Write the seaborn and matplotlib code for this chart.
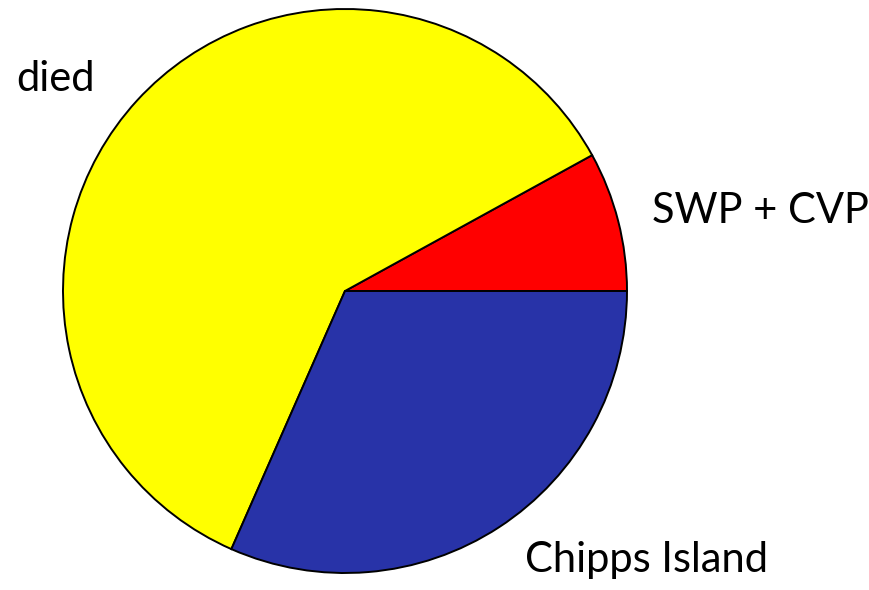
import matplotlib
matplotlib.use("Agg")
import matplotlib.pyplot as plt
import seaborn as sns

categories = ["SWP + CVP", "died", "Chipps Island"]
values = [8.0, 60.4, 31.6]
colors = ["#FF0000", "#FFFF00", "#2833A8"]

sns.set_theme(style="white")
plt.rcParams['font.family'] = ['Lato', 'DejaVu Sans']

W, H = 869, 590
fig = plt.figure(figsize=(W / 100, H / 100), dpi=100)
ax = fig.add_axes([0, 0, 1, 1])
ax.set_xlim(0, W)
ax.set_ylim(0, H)
ax.axis("off")

ax.pie(values, colors=colors, startangle=0, counterclock=True,
       center=(345, H - 291), radius=282, frame=True,
       wedgeprops=dict(edgecolor="black", linewidth=1.4))
ax.set_xlim(0, W)
ax.set_ylim(0, H)
ax.set_aspect("equal")
ax.axis("off")

label_pos = {"died": (16, H - 91), "SWP + CVP": (652, H - 223), "Chipps Island": (525, H - 572)}
for name in categories:
    x, y = label_pos[name]
    ax.text(x, y, name, fontsize=30, ha="left", va="baseline", color="black")

fig.savefig("out.png", dpi=100)
